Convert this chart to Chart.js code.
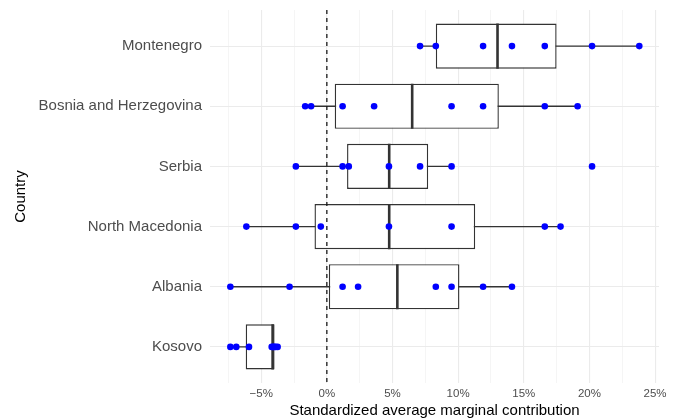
<!DOCTYPE html>
<html>
<head>
<meta charset="utf-8">
<script src="https://cdn.jsdelivr.net/npm/chart.js@4"></script>
<style>
  html, body { margin: 0; padding: 0; background: #fff; }
  #wrap { width: 678px; height: 420px; }
</style>
</head>
<body>
<div id="wrap"><canvas id="grafico"></canvas></div>
<script>
// categories, top to bottom
const countries = ['Montenegro', 'Bosnia and Herzegovina', 'Serbia', 'North Macedonia', 'Albania', 'Kosovo'];

// box statistics (%)
const q1 = [8.3, 0.6, 1.54, -0.94, 0.15, -6.18];
const medians = [13.0, 6.5, 4.75, 4.75, 5.37, -4.13];
const q3 = [17.5, 13.1, 7.72, 11.3, 10.1, -3.98];
const whiskerLow = [7.1, -1.65, -2.36, -6.13, -7.35, -7.35];
const whiskerHigh = [23.8, 19.1, 9.5, 17.8, 14.1, -3.75];

// observations (%)
const montenegro = [7.1, 8.3, 11.9, 14.1, 16.6, 20.2, 23.8];
const bosnia = [-1.65, -1.2, 1.2, 3.6, 9.5, 11.9, 16.6, 19.1];
const serbia = [-2.36, 1.2, 1.67, 4.73, 7.1, 9.5, 20.2];
const northMacedonia = [-6.13, -2.36, -0.46, 4.73, 9.5, 16.6, 17.8];
const albania = [-7.35, -2.84, 1.2, 2.38, 8.3, 9.5, 11.9, 14.1];
const kosovo = [-7.35, -6.9, -5.93, -4.2, -4.1, -4.0, -3.9, -3.75];
const observations = [montenegro, bosnia, serbia, northMacedonia, albania, kosovo];

// x tick labels
const xTicks = [-5, 0, 5, 10, 15, 20, 25];

const FONT = "'Liberation Sans', Arial, sans-serif";
const HALF = 0.375;
const yMin = -0.6, yMax = countries.length - 0.4;

const datasets = [];

// points
const pts = [];
observations.forEach((arr, i) => arr.forEach(v => pts.push({ x: v, y: i })));
datasets.push({
    type: 'scatter',
    data: pts,
    order: 0,
    pointRadius: 3.3,
    pointBackgroundColor: '#0000ff',
    pointBorderWidth: 0,
    showLine: false
});

// dashed zero line
datasets.push({
    type: 'line',
    data: [{ x: 0, y: yMin }, { x: 0, y: yMax }],
    order: 1,
    borderColor: '#1a1a1a',
    borderWidth: 1.3,
    borderDash: [4, 4],
    pointRadius: 0
});

// medians
countries.forEach((c, i) => {
    datasets.push({
        type: 'line',
        data: [{ x: medians[i], y: i - HALF }, { x: medians[i], y: i + HALF }],
        order: 2,
        borderColor: '#333333',
        borderWidth: 2.6,
        pointRadius: 0
    });
});

// boxes
datasets.push({
    type: 'bar',
    indexAxis: 'y',
    data: countries.map((c, i) => ({ x: [q1[i], q3[i]], y: i })),
    order: 3,
    backgroundColor: '#ffffff',
    borderColor: '#333333',
    borderWidth: 1.4,
    borderSkipped: false,
    categoryPercentage: 1,
    barPercentage: 0.75
});

// whiskers
countries.forEach((c, i) => {
    datasets.push({
        type: 'line',
        data: [{ x: whiskerLow[i], y: i }, { x: whiskerHigh[i], y: i }],
        order: 4,
        borderColor: '#333333',
        borderWidth: 1.3,
        pointRadius: 0
    });
});

const isMajor = v => xTicks.some(t => Math.abs(t - v) < 1e-9);
const tickVal = ctx => (ctx.tick ? ctx.tick.value : NaN);

new Chart(document.getElementById('grafico'), {
    type: 'bar',
    data: { datasets },
    options: {
        responsive: true,
        maintainAspectRatio: false,
        animation: false,
        layout: { padding: { left: 0, right: 19, top: 10, bottom: 0 } },
        plugins: { legend: { display: false }, tooltip: { enabled: false } },
        scales: {
            x: {
                type: 'linear',
                min: -8.9,
                max: 25.3,
                offset: false,
                border: { display: false },
                grid: {
                    offset: false,
                    drawTicks: false,
                    color: ctx => isMajor(tickVal(ctx)) ? '#ebebeb' : '#f2f2f2',
                    lineWidth: ctx => isMajor(tickVal(ctx)) ? 1.1 : 0.8
                },
                ticks: {
                    stepSize: 2.5,
                    includeBounds: false,
                    autoSkip: false,
                    maxRotation: 0,
                    padding: 4,
                    color: '#4d4d4d',
                    font: { family: FONT, size: 11.5 },
                    callback: v => isMajor(v) ? (v < 0 ? '\u2212' + Math.abs(v) : v) + '%' : ''
                },
                title: {
                    display: true,
                    text: 'Standardized average marginal contribution',
                    color: '#000',
                    font: { family: FONT, size: 15 },
                    padding: { top: 0, bottom: 0 }
                },
                afterFit: s => { s.height = 37; s.paddingLeft = 0; s.paddingRight = 0; }
            },
            y: {
                type: 'linear',
                reverse: true,
                min: yMin,
                max: yMax,
                offset: false,
                border: { display: false },
                grid: { offset: false, drawTicks: false, color: '#ebebeb', lineWidth: 1.1 },
                ticks: {
                    stepSize: 1,
                    includeBounds: false,
                    autoSkip: false,
                    padding: 8,
                    color: '#4d4d4d',
                    font: { family: FONT, size: 15 },
                    callback: v => countries[v] || ''
                },
                title: {
                    display: true,
                    text: 'Country',
                    color: '#000',
                    font: { family: FONT, size: 15 },
                    padding: { top: 12, bottom: 0 }
                },
                afterFit: s => { s.width = 210; s.paddingTop = 0; s.paddingBottom = 0; }
            }
        }
    }
});
</script>
</body>
</html>
